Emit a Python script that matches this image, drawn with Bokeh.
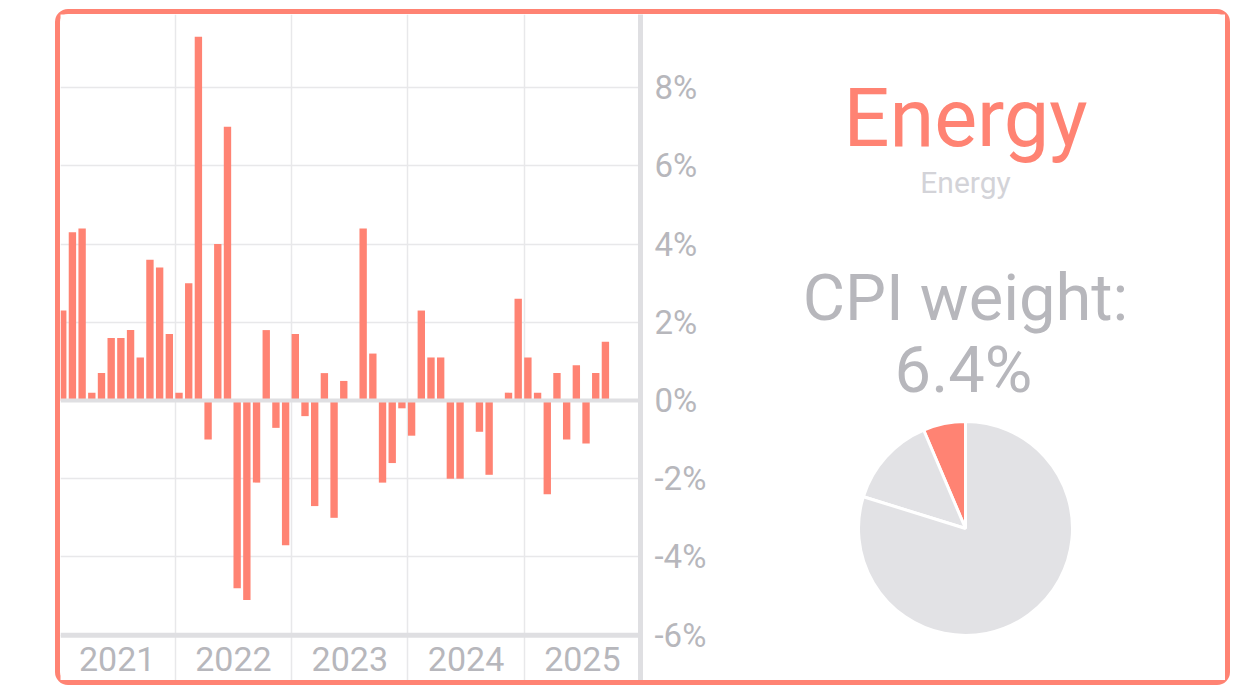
import numpy as np
from bokeh.plotting import figure
from bokeh.layouts import row
from bokeh.models import FixedTicker, PrintfTickFormatter, Span, ColumnDataSource
from bokeh.core.properties import value
from bokeh.embed import file_html
from bokeh.resources import INLINE

# ---------------- data ----------------
years = ["2021", "2022", "2023", "2024", "2025"]
# monthly change in energy CPI (%), Jan 2021 .. Sep 2025
monthly_change = [
    2.3, 4.3, 4.4, 0.2, 0.7, 1.6, 1.6, 1.8, 1.1, 3.6, 3.4, 1.7,      # 2021
    0.2, 3.0, 9.3, -1.0, 4.0, 7.0, -4.8, -5.1, -2.1, 1.8, -0.7, -3.7,  # 2022
    1.7, -0.4, -2.7, 0.7, -3.0, 0.5, 0.0, 4.4, 1.2, -2.1, -1.6, -0.2,  # 2023
    -0.9, 2.3, 1.1, 1.1, -2.0, -2.0, 0.0, -0.8, -1.9, 0.0, 0.2, 2.6,   # 2024
    1.1, 0.2, -2.4, 0.7, -1.0, 0.9, -1.1, 0.7, 1.5,                    # 2025
]
y_ticks = [-6, -4, -2, 0, 2, 4, 6, 8]
category = "Energy"
subtitle = "Energy"
pie_labels = ["Energy", "Other group", "Rest of CPI"]
pie_weights = [6.4, 13.8, 79.8]

SALMON = "#FF8373"
GRID = "#E8E8EA"
AXIS = "#DFDFE2"
LABEL = "#B7B7BC"
FONT = "Roboto"

# ---------------- bar chart ----------------
n = len(monthly_change)
month_idx = np.arange(n)
bar_w = 0.76
src = ColumnDataSource(dict(x=month_idx + bar_w / 2, top=monthly_change))

p1 = figure(width=660, height=666, x_range=(0.15, 60), y_range=(-7.16, 9.87),
            output_backend="svg", toolbar_location=None, title=None,
            x_axis_location=None, y_axis_location="right",
            min_border_left=0, min_border_top=0, min_border_bottom=0, min_border_right=80)
p1.outline_line_color = None
p1.background_fill_color = "white"
p1.border_fill_color = "white"

p1.vbar(x="x", top="top", bottom=0, width=bar_w, source=src,
        fill_color=SALMON, line_color=None)

ax = p1.yaxis[0]
ax.ticker = FixedTicker(ticks=y_ticks)
ax.formatter = PrintfTickFormatter(format="%d%%")
ax.axis_line_color = AXIS
ax.axis_line_width = 5
ax.major_tick_line_color = None
ax.minor_tick_line_color = None
ax.major_label_standoff = 8
ax.major_label_text_font = FONT
ax.major_label_text_font_size = "33px"
ax.major_label_text_color = LABEL

p1.ygrid.ticker = FixedTicker(ticks=y_ticks)
p1.ygrid.grid_line_color = GRID
p1.ygrid.grid_line_width = 1.5
p1.xgrid.ticker = FixedTicker(ticks=[12, 24, 36, 48])
p1.xgrid.grid_line_color = GRID
p1.xgrid.grid_line_width = 1.5

p1.add_layout(Span(location=0, dimension="width", line_color=AXIS, line_width=4))
p1.add_layout(Span(location=y_ticks[0], dimension="width", line_color=AXIS, line_width=5))

year_src = ColumnDataSource(dict(x=[12 * i + 6 for i in range(len(years))],
                                 y=[-6.61] * len(years), t=years))
p1.text(x="x", y="y", text="t", source=year_src, text_align="center",
        text_baseline="middle", text_font=value(FONT), text_font_size="34px",
        text_color=LABEL, text_line_height=1.0)

# ---------------- right panel ----------------
p2 = figure(width=505, height=666, x_range=(0, 505), y_range=(0, 666),
            output_backend="svg", toolbar_location=None, title=None,
            min_border=0, x_axis_location=None, y_axis_location=None)
p2.outline_line_color = None
p2.grid.visible = False
p2.background_fill_color = "white"
p2.border_fill_color = "white"

p2.text(x=[245], y=[562], text=[category], text_align="center", text_baseline="alphabetic",
        text_font=value(FONT), text_font_size="81px", text_color=SALMON)
p2.text(x=[245], y=[498], text=[subtitle], text_align="center", text_baseline="alphabetic",
        text_font=value(FONT), text_font_size="30px", text_color="#D3D3D8")
p2.text(x=[245], y=[383], text=["CPI weight:"], text_align="center", text_baseline="alphabetic",
        text_font=value(FONT), text_font_size="65px", text_color=LABEL)
p2.text(x=[243], y=[311], text=[f"{pie_weights[0]}%"], text_align="center", text_baseline="alphabetic",
        text_font=value(FONT), text_font_size="65px", text_color=LABEL)

w = np.array(pie_weights) / sum(pie_weights) * 2 * np.pi
ends = np.pi / 2 + np.cumsum(w)
starts = ends - w
pie_src = ColumnDataSource(dict(start=starts, end=ends, label=pie_labels,
                                color=[SALMON, "#E2E2E5", "#E2E2E5"]))
p2.wedge(x=245, y=152, radius=107, start_angle="start", end_angle="end",
         fill_color="color", line_color="white", line_width=3, source=pie_src)

card = row(p1, p2, margin=(14, 0, 0, 60),
           styles={"outline": f"5px solid {SALMON}", "border-radius": "8px",
                   "background-color": "white"})

open("out.html", "w").write(file_html(card, INLINE))
